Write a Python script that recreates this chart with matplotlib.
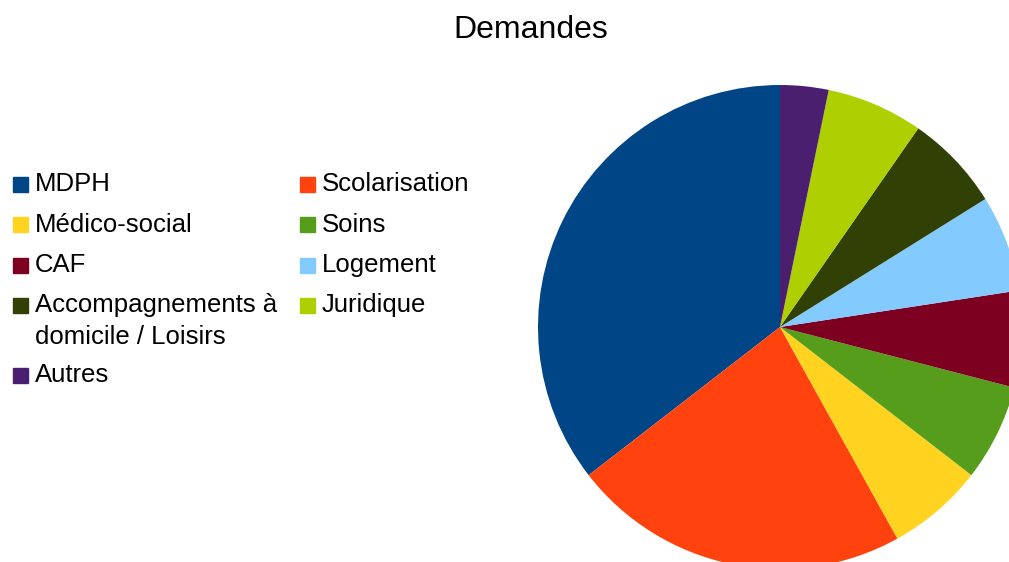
import matplotlib
matplotlib.use("Agg")
import matplotlib.pyplot as plt
from matplotlib.patches import Rectangle

# data
labels = ["MDPH", "Scolarisation", "Médico-social", "Soins", "CAF", "Logement",
          "Accompagnements à\ndomicile / Loisirs", "Juridique", "Autres"]
values = [11, 7, 2, 2, 2, 2, 2, 2, 1]
colors = ["#004586", "#ff420e", "#ffd320", "#579d1c", "#7e0021", "#83caff",
          "#314004", "#aecf00", "#4b1f6f"]

plt.rcParams['font.family'] = ['Liberation Sans', 'DejaVu Sans']

W, H = 1009, 562
fig = plt.figure(figsize=(W / 100, H / 100), dpi=100)

# pie: centre (780, 327) px, radius 242 px
cx, cy, r = 780, 327, 242
ax = fig.add_axes([(cx - r) / W, (H - cy - r) / H, 2 * r / W, 2 * r / H])
ax.pie(values, colors=colors, startangle=90, counterclock=True, radius=1,
       wedgeprops=dict(linewidth=0))
ax.set_xlim(-1, 1)
ax.set_ylim(-1, 1)
ax.axis("off")

fig.text(531 / W, 1 - 30 / H, "Demandes", ha="center", va="center", fontsize=23, color="#000000")

# legend drawn row-wise like the original
col_x = [13, 300]
row_y = [184, 225, 265, 305, 375]
sq = 15
for i, (lab, c) in enumerate(zip(labels, colors)):
    row, col = divmod(i, 2)
    x = col_x[col]
    y = row_y[row]
    fig.patches.append(Rectangle((x / W, 1 - (y + sq / 2) / H), sq / W, sq / H,
                                 transform=fig.transFigure, color=c, figure=fig))
    for k, line in enumerate(lab.split("\n")):
        fig.text((x + 22) / W, 1 - (y + 32 * k) / H, line, ha="left", va="center",
                 fontsize=18.5, color="#000000")

fig.savefig("out.png", dpi=100)
